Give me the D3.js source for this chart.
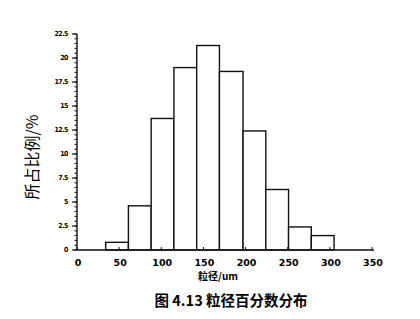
<!DOCTYPE html>
<html>
<head>
<meta charset="utf-8">
<script src="https://cdn.jsdelivr.net/npm/d3@7"></script>
<style>
  body { margin: 0; background: #fff; }
  svg { display: block; }
</style>
</head>
<body>
<div id="container"></div>
<script>
// bin edges (um), one more than the values
var binEdges = [34, 61, 88, 115, 142, 169, 197, 224, 251, 278, 305];
var percents = [0.8, 4.6, 13.7, 19.0, 21.3, 18.6, 12.4, 6.3, 2.4, 1.5];
var xTicks = [0, 50, 100, 150, 200, 250, 300, 350];
var yTicks = [0, 2.5, 5, 7.5, 10, 12.5, 15, 17.5, 20, 22.5];

var bins = percents.map(function (v, i) {
    return { x0: binEdges[i], x1: binEdges[i + 1], value: v };
});

var svg = d3.select('#container').append('svg')
    .attr('width', 420)
    .attr('height', 319);

var x = d3.scaleLinear().domain([0, 350]).range([77, 372]);
var y = d3.scaleLinear().domain([0, 22.5]).range([250, 34]);

// bars
svg.selectAll('rect.bar')
    .data(bins)
    .enter().append('rect')
    .attr('class', 'bar')
    .attr('x', function (d) { return x(d.x0); })
    .attr('width', function (d) { return x(d.x1) - x(d.x0); })
    .attr('y', function (d) { return y(d.value); })
    .attr('height', function (d) { return y(0) - y(d.value); })
    .attr('fill', '#fff')
    .attr('stroke', '#111')
    .attr('stroke-width', 1.4);

// y axis: minor ticks every 0.5, major every 2.5
var minor = d3.range(0, 22.51, 0.5);
var yAxis = svg.append('g').attr('transform', 'translate(77,0)');
yAxis.append('line')
    .attr('y1', y(22.5)).attr('y2', y(0))
    .attr('stroke', '#111').attr('stroke-width', 1.4);
yAxis.selectAll('line.minor')
    .data(minor)
    .enter().append('line')
    .attr('class', 'minor')
    .attr('x1', -2.5).attr('x2', 0)
    .attr('y1', function (d) { return y(d); })
    .attr('y2', function (d) { return y(d); })
    .attr('stroke', '#111').attr('stroke-width', 1);
yAxis.selectAll('line.major')
    .data(yTicks)
    .enter().append('line')
    .attr('class', 'major')
    .attr('x1', -5).attr('x2', 0)
    .attr('y1', function (d) { return y(d); })
    .attr('y2', function (d) { return y(d); })
    .attr('stroke', '#111').attr('stroke-width', 1.2);
yAxis.selectAll('text')
    .data(yTicks)
    .enter().append('text')
    .attr('x', -9)
    .attr('y', function (d) { return y(d); })
    .attr('dy', '0.35em')
    .attr('text-anchor', 'end')
    .attr('font-family', 'Liberation Sans Narrow, Arial Narrow, DejaVu Sans Condensed, sans-serif')
    .attr('font-weight', 'bold')
    .attr('font-size', 7)
    .attr('letter-spacing', -0.5)
    .text(function (d) { return d; });

// x axis
var xAxis = svg.append('g').attr('transform', 'translate(0,250)');
xAxis.append('line')
    .attr('x1', x(0)).attr('x2', x(350) + 2)
    .attr('stroke', '#111').attr('stroke-width', 1.4);
xAxis.selectAll('line.tick')
    .data(xTicks)
    .enter().append('line')
    .attr('class', 'tick')
    .attr('x1', function (d) { return x(d); })
    .attr('x2', function (d) { return x(d); })
    .attr('y1', 0).attr('y2', -3)
    .attr('stroke', '#111').attr('stroke-width', 1);
xAxis.selectAll('text')
    .data(xTicks)
    .enter().append('text')
    .attr('x', function (d) { return x(d) + 1; })
    .attr('y', 16)
    .attr('text-anchor', 'middle')
    .attr('font-family', 'DejaVu Sans, sans-serif')
    .attr('font-weight', 'bold')
    .attr('font-size', 9.5)
    .text(function (d) { return d; });

// axis titles
svg.append('text')
    .attr('transform', 'translate(38,157) rotate(-90)')
    .attr('text-anchor', 'middle')
    .attr('font-family', 'Noto Sans CJK SC, sans-serif')
    .attr('font-size', 16)
    .text('所占比例/%');

svg.append('text')
    .attr('x', 218)
    .attr('y', 280)
    .attr('text-anchor', 'middle')
    .attr('font-family', 'Noto Sans CJK SC, sans-serif')
    .attr('font-weight', 'bold')
    .attr('font-size', 10)
    .text('粒径/um');

// caption
svg.append('text')
    .attr('x', 231)
    .attr('y', 306)
    .attr('text-anchor', 'middle')
    .attr('font-family', 'Noto Sans CJK SC, sans-serif')
    .attr('font-weight', 'bold')
    .attr('font-size', 14.5)
    .text('图 4.13  粒径百分数分布');
</script>
</body>
</html>
